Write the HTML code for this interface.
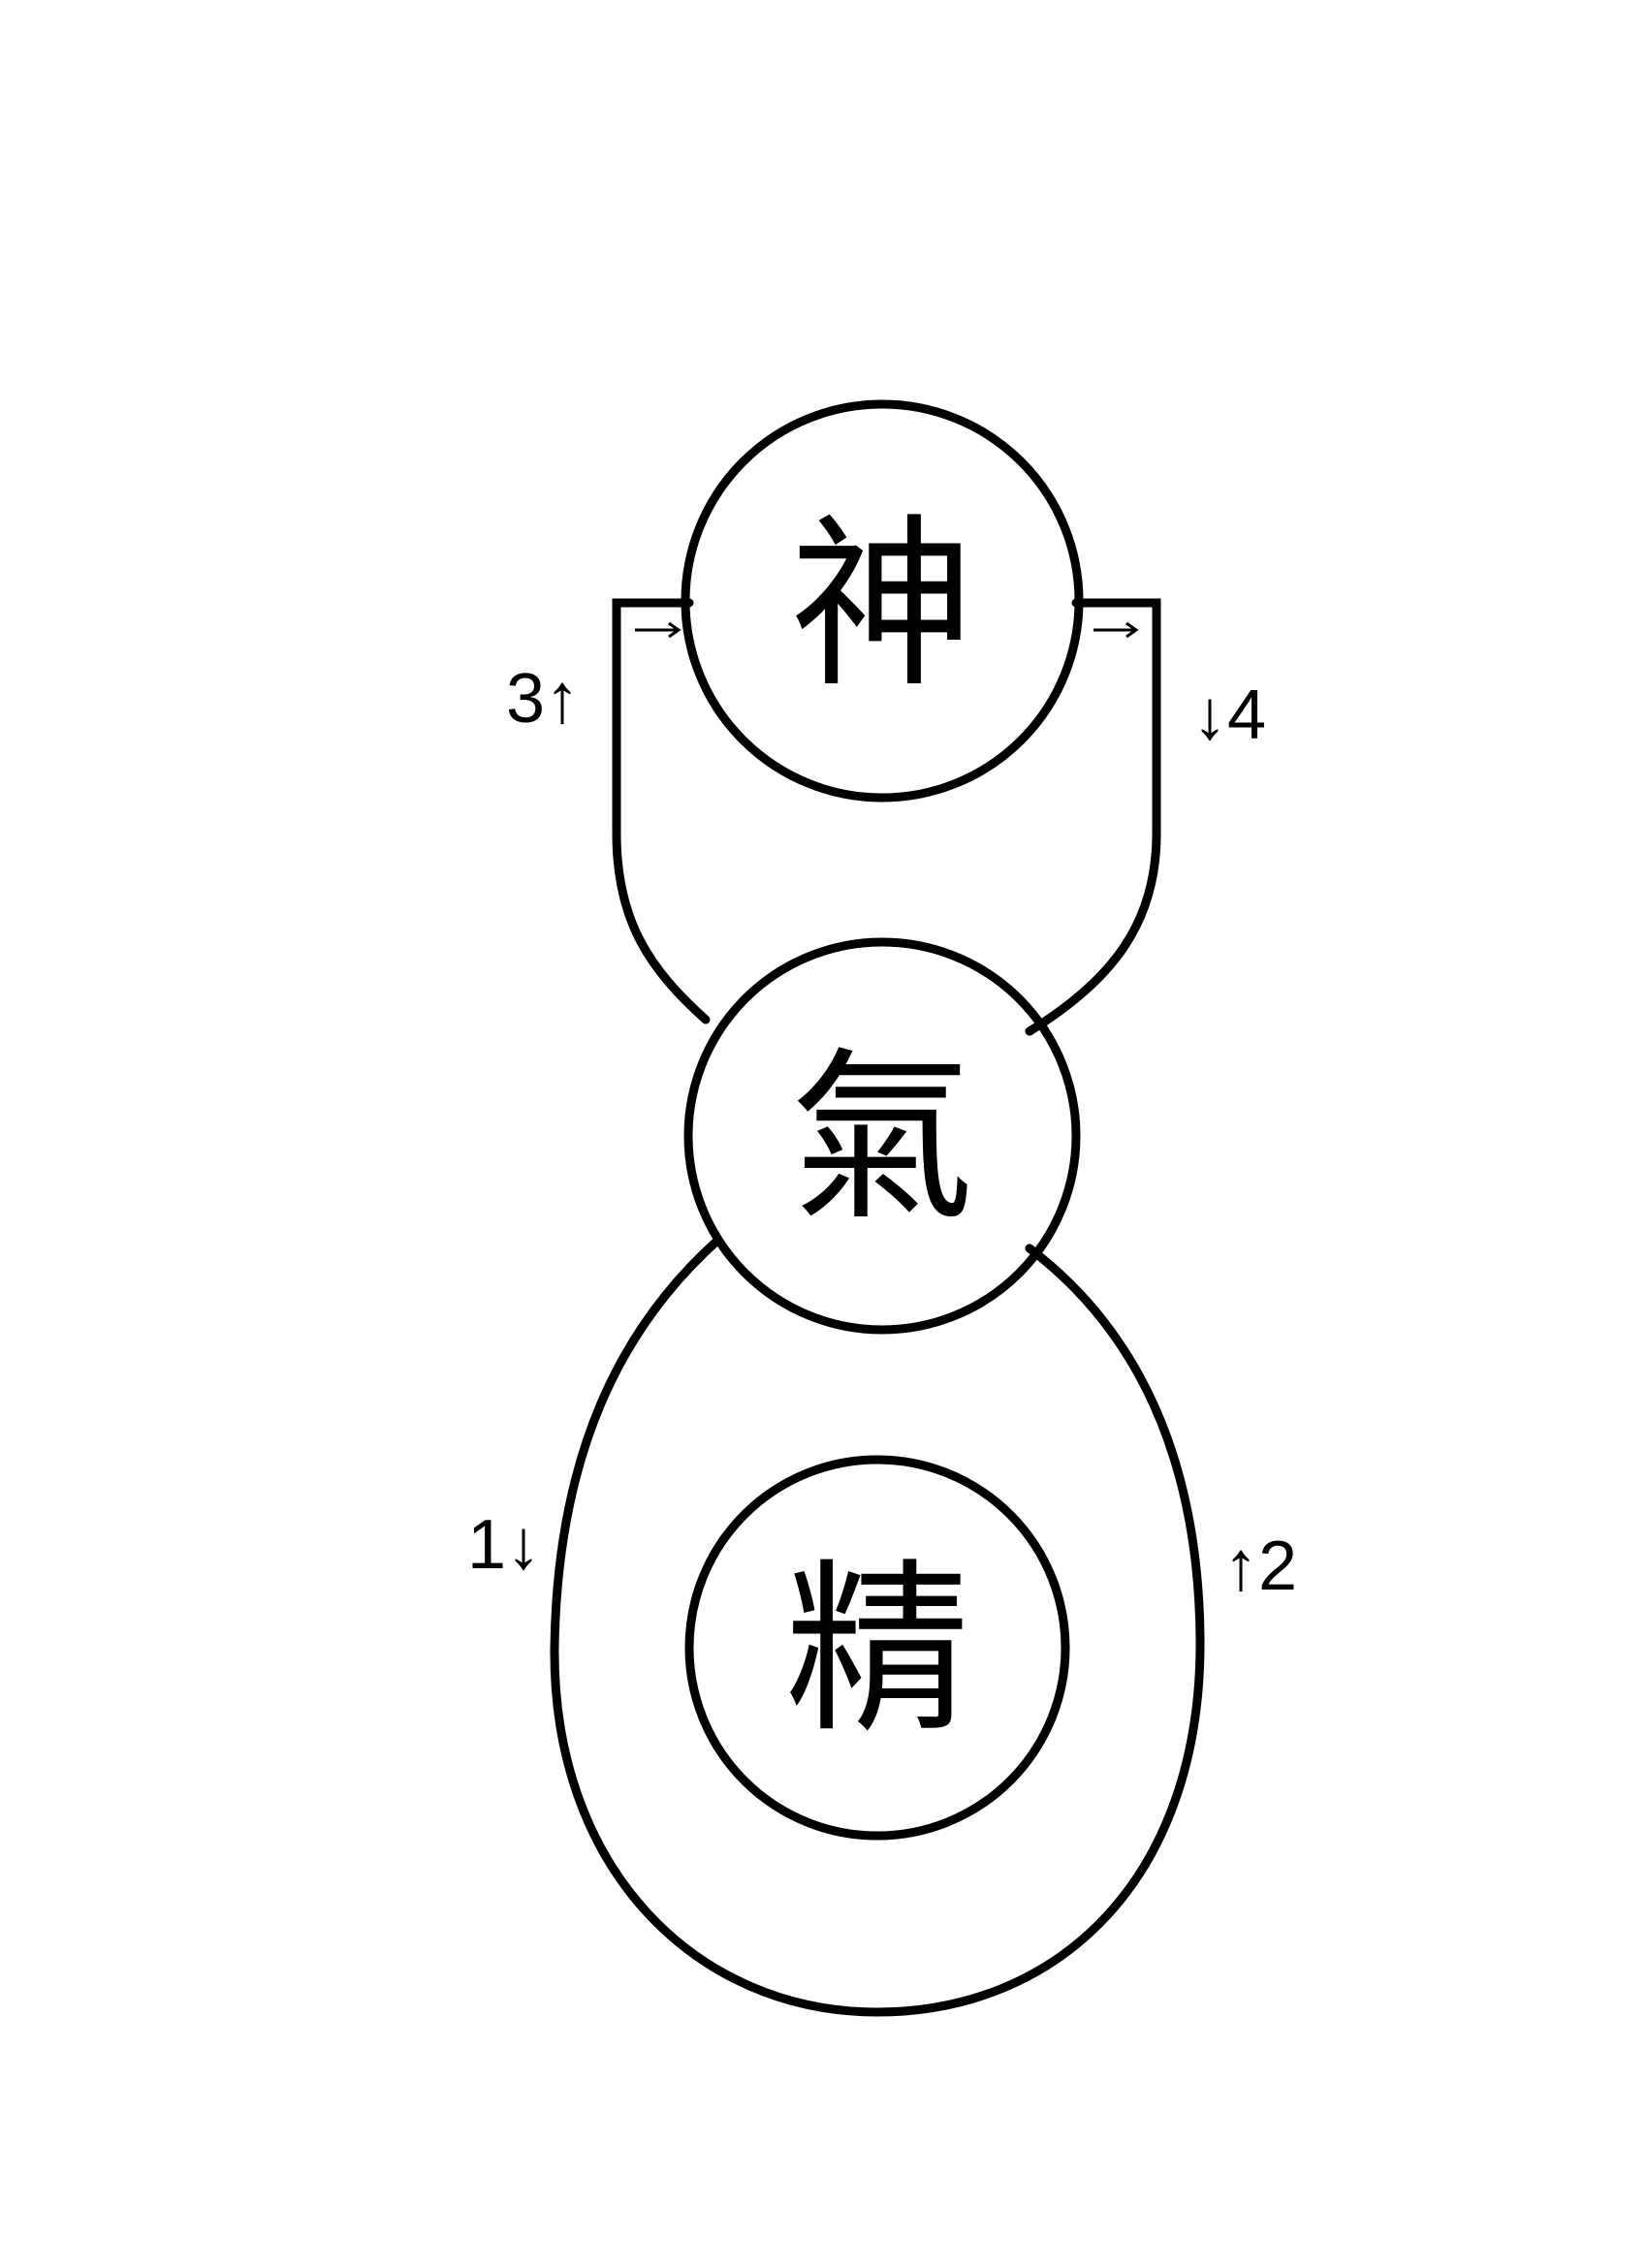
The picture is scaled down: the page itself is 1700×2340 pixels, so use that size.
<!DOCTYPE html>
<html><head><meta charset="utf-8"><style>
html,body{margin:0;padding:0;background:#fff;}
svg{display:block}
text{font-family:"Liberation Sans","Noto Sans CJK TC","Noto Sans CJK SC",sans-serif;fill:#000}
</style></head><body>
<svg width="1700" height="2340" viewBox="0 0 1700 2340" xmlns="http://www.w3.org/2000/svg">
<g fill="none" stroke="#000" stroke-width="9" stroke-linecap="round">
<circle cx="910" cy="620" r="203"/>
<circle cx="910" cy="1172" r="200"/>
<circle cx="905" cy="1700" r="194"/>
<path d="M740 1280 C640 1370 575 1500 572 1700 C570 1930 720 2076 905 2076 C1090 2076 1240 1940 1238 1690 C1236 1500 1170 1370 1062 1288"/>
<path d="M711 622 L636 622 L636 860 C636 950 670 1000 728 1052"/>
<path d="M1110 622 L1193 622 L1193 860 C1193 950 1150 1010 1062 1064"/>
</g>
<g stroke="#000" stroke-width="3" fill="none">
<path d="M655 650 L700 650 M690 643 L700 650 L690 657"/>
<path d="M1128 650 L1172 650 M1162 643 L1172 650 L1162 657"/>
</g>
<text x="910" y="690" font-size="190" text-anchor="middle">神</text>
<text x="910" y="1240" font-size="190" text-anchor="middle">氣</text>
<text x="905" y="1768" font-size="190" text-anchor="middle">精</text>
<text x="560" y="745" font-size="72" text-anchor="middle">3↑</text>
<text x="1268" y="762" font-size="72" text-anchor="middle">↓4</text>
<text x="520" y="1618" font-size="72" text-anchor="middle">1↓</text>
<text x="1300" y="1640" font-size="72" text-anchor="middle">↑2</text>
</svg>
</body></html>
